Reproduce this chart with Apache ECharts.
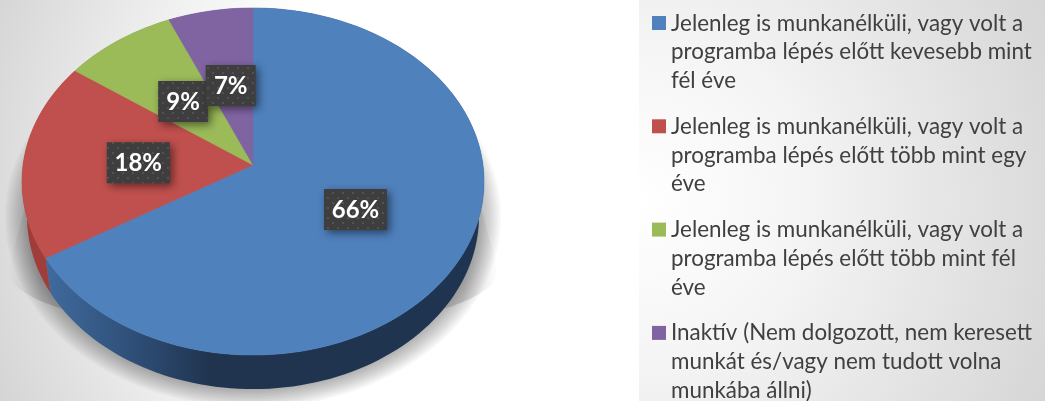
<!DOCTYPE html>
<html><head><meta charset="utf-8">
<style>html,body{margin:0;padding:0;background:#fff}#c{width:1045px;height:401px}</style>
<script src="https://cdn.jsdelivr.net/npm/echarts@6/dist/echarts.min.js"></script>
</head><body><div id="c"></div>
<script>
const categories = [
  "Jelenleg is munkanélküli, vagy volt a\nprogramba lépés előtt kevesebb mint\nfél éve",
  "Jelenleg is munkanélküli, vagy volt a\nprogramba lépés előtt több mint egy\néve",
  "Jelenleg is munkanélküli, vagy volt a\nprogramba lépés előtt több mint fél\néve",
  "Inaktív (Nem dolgozott, nem keresett\nmunkát és/vagy nem tudott volna\nmunkába állni)"
];
const shares = [66.4, 18.4, 8.7, 6.5];
const colors = ["#4f81bd", "#c0504d", "#9bbb59", "#8064a2"];

const FONT = 'Lato, "Open Sans", sans-serif';
const total = shares.reduce((a, b) => a + b, 0);
const starts = shares.map((_, i) => shares.slice(0, i).reduce((a, b) => a + b, 0));

// Perspective projection of the pie disc onto the page
const K = 0.095;
const topPlane = { cx: 253, cy: 165, a: 230, b: 172 };
const lowPlane = { cx: 253, cy: 199.6, a: 225, b: 171.5 };
function project(pl, r, pct) {
  const t = pct / total * 2 * Math.PI;
  const u = r * Math.sin(t), v = r * Math.cos(t), w = 1 + K * v;
  return [pl.cx + pl.a * u / w, pl.cy - pl.b * v / w];
}
function rim(pl, from, to) {
  const pts = [], n = Math.max(4, Math.ceil((to - from) * 2));
  for (let i = 0; i <= n; i++) pts.push(project(pl, 1, from + (to - from) * i / n));
  return pts;
}

// Soft wedge of the cast shadow that shows beside the disc
const wedge = [[46, 130]];
for (let a = 0; a <= 40; a++) {
  const t = Math.PI * a / 40;
  wedge.push([253 - 245 * Math.cos(t), 270 + 62 * Math.sin(t)]);
}
wedge.push([460, 130]);

const sideFill = [
  { type: 'linear', x: 45, y: 0, x2: 480, y2: 0, global: true, colorStops: [
    { offset: 0, color: '#406b9e' }, { offset: 0.2, color: '#2f4f78' },
    { offset: 0.38, color: '#20344f' }, { offset: 1, color: '#1f3450' }] },
  '#a03d3a', '#7a9147', '#634d7e'
];

// Dotted fill of the data-label boxes
const dots = document.createElement('canvas');
dots.width = dots.height = 10;
(function () {
  const g = dots.getContext('2d');
  g.fillStyle = '#3e3e3e'; g.fillRect(0, 0, 10, 10);
  g.fillStyle = '#525252';
  g.fillRect(2, 2, 2, 2); g.fillRect(7, 7, 2, 2);
})();

function renderShadow() {
  const children = [
    { type: 'polygon', shape: { points: wedge },
      style: { fill: { type: 'linear', x: 8, y: 0, x2: 498, y2: 0, global: true, colorStops: [
        { offset: 0, color: 'rgba(0,0,0,0)' }, { offset: 0.07, color: 'rgba(0,0,0,0.14)' },
        { offset: 0.93, color: 'rgba(0,0,0,0.14)' }, { offset: 1, color: 'rgba(0,0,0,0)' }] } } }
  ];
  // halo under the disc, built from nested translucent ellipses
  for (let d = 22; d >= 0; d -= 2) {
    children.push({ type: 'ellipse', shape: { cx: 253, cy: 217, rx: 226 + d, ry: 173 + d * 0.8 },
      style: { fill: 'rgba(0,0,0,0.028)' } });
  }
  return { type: 'group', children: children };
}
function renderSide(p) {
  const i = p.dataIndex, s = starts[i], e = s + shares[i];
  return { type: 'polygon', silent: true,
    shape: { points: rim(topPlane, s, e).concat(rim(lowPlane, s, e).reverse()) },
    style: { fill: sideFill[i] } };
}
function renderTop(p) {
  const i = p.dataIndex, s = starts[i], e = s + shares[i];
  return { type: 'polygon', silent: true,
    shape: { points: [project(topPlane, 0, 0)].concat(rim(topPlane, s, e)) },
    style: { fill: colors[i], stroke: colors[i], lineWidth: 0.5 } };
}
function renderLabel(p, api) {
  const i = p.dataIndex, c = project(topPlane, 0.5, starts[i] + shares[i] / 2);
  const txt = Math.round(api.value(0)) + '%';
  const w = txt.length > 2 ? 63 : 50, h = 41;
  return { type: 'group', children: [
    { type: 'rect', shape: { x: c[0] - w / 2, y: c[1] + 1 - h / 2, width: w, height: h },
      style: { fill: { image: dots, repeat: 'repeat' }, shadowColor: 'rgba(0,0,0,0.5)', shadowBlur: 8, shadowOffsetX: 3, shadowOffsetY: 3 } },
    { type: 'text', style: { x: c[0], y: c[1] + 2, text: txt, fill: '#fff', font: 'bold 24px ' + FONT, align: 'center', verticalAlign: 'middle' } }
  ] };
}
function renderLegend(p) {
  const i = p.dataIndex, y = 16 + i * 103.3;
  return { type: 'group', children: [
    { type: 'rect', shape: { x: 652, y: y, width: 14, height: 14 }, style: { fill: colors[i] } },
    { type: 'text', style: { x: 671, y: y - 7, text: categories[i], fill: '#404040', font: '22.4px ' + FONT, lineHeight: 28.7, align: 'left', verticalAlign: 'top' } }
  ] };
}

const chart = echarts.init(document.getElementById('c'), null, { renderer: 'canvas' });
chart.setOption({
  animation: false,
  backgroundColor: '#fff',
  graphic: [
    { type: 'rect', z: 0, silent: true, shape: { x: 0, y: 0, width: 639, height: 401 },
      style: { fill: { type: 'radial', x: 500, y: 190, r: 540, global: true, colorStops: [
        { offset: 0, color: '#fff' }, { offset: 0.5, color: '#ffffff' }, { offset: 0.72, color: '#eeeeee' }, { offset: 1, color: '#d5d5d5' }] } } },
    { type: 'rect', z: 0, silent: true, shape: { x: 639, y: 0, width: 406, height: 401 },
      style: { fill: { type: 'radial', x: 640, y: 200, r: 450, global: true, colorStops: [
        { offset: 0, color: '#ffffff' }, { offset: 0.35, color: '#f5f5f5' }, { offset: 1, color: '#d6d6d6' }] } } }
  ],
  series: [
    { type: 'custom', coordinateSystem: 'none', z: 1, silent: true, data: [total], renderItem: renderShadow },
    { type: 'custom', coordinateSystem: 'none', z: 2, silent: true, data: shares, renderItem: renderSide },
    { type: 'custom', coordinateSystem: 'none', z: 3, silent: true, data: shares, renderItem: renderTop },
    { type: 'custom', coordinateSystem: 'none', z: 4, silent: true, data: shares, renderItem: renderLabel },
    { type: 'custom', coordinateSystem: 'none', z: 5, silent: true, data: shares, renderItem: renderLegend }
  ]
});
</script></body></html>
